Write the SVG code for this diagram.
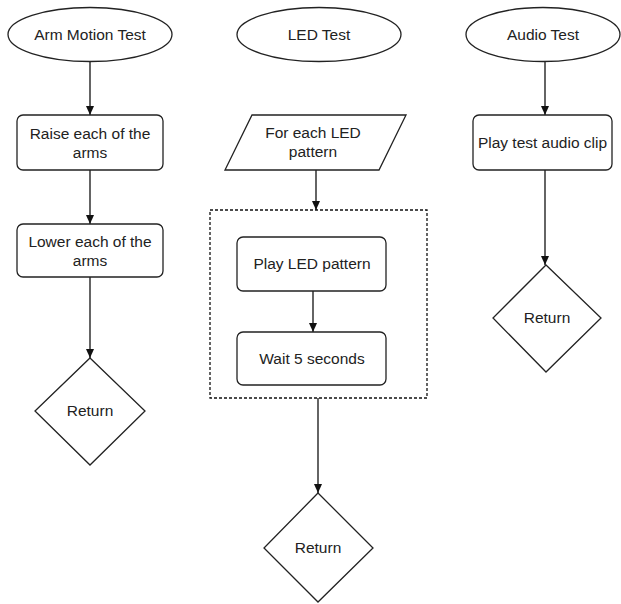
<svg xmlns="http://www.w3.org/2000/svg" width="621" height="604" viewBox="0 0 621 604">
<style>
.s{fill:#fff;stroke:#222;stroke-width:1.3}
.t{font-family:"Liberation Sans",Arial,sans-serif;font-size:15.5px;fill:#222;text-anchor:middle}
.c{fill:none;stroke:#111;stroke-width:1.3}
.d{fill:none;stroke:#111;stroke-width:1.3;stroke-dasharray:3,2}
</style>
<defs>
<marker id="a" markerWidth="10" markerHeight="10" refX="9" refY="5" orient="auto" markerUnits="userSpaceOnUse">
<path d="M0,1 L9,5 L0,9 Z" fill="#111"/>
</marker>
</defs>
<rect width="621" height="604" fill="#fff"/>
<g id="connectors">
<line class="c" x1="90" y1="62" x2="90" y2="115" marker-end="url(#a)"/>
<line class="c" x1="90" y1="170" x2="90" y2="224" marker-end="url(#a)"/>
<line class="c" x1="90" y1="277" x2="90" y2="358" marker-end="url(#a)"/>
<line class="c" x1="316" y1="170" x2="316" y2="210" marker-end="url(#a)"/>
<line class="c" x1="313" y1="291" x2="313" y2="332" marker-end="url(#a)"/>
<line class="c" x1="318" y1="398" x2="318" y2="493" marker-end="url(#a)"/>
<line class="c" x1="545" y1="62" x2="545" y2="115" marker-end="url(#a)"/>
<line class="c" x1="545" y1="170" x2="545" y2="265" marker-end="url(#a)"/>
</g>
<g id="loop">
<rect class="d" x="210" y="210" width="217" height="188"/>
</g>
<g id="arm-start">
<ellipse class="s" cx="90" cy="34.5" rx="82" ry="27"/>
<text class="t" x="90" y="40">Arm Motion Test</text>
</g>
<g id="raise">
<rect class="s" x="17" y="115" width="146" height="55" rx="6"/>
<text class="t" x="90" y="139">Raise each of the</text>
<text class="t" x="90" y="158">arms</text>
</g>
<g id="lower">
<rect class="s" x="17" y="224" width="146" height="53" rx="6"/>
<text class="t" x="90" y="247">Lower each of the</text>
<text class="t" x="90" y="266">arms</text>
</g>
<g id="arm-return">
<path class="s" d="M90,358 L145,411 L90,465 L35,411 Z"/>
<text class="t" x="90" y="416">Return</text>
</g>
<g id="led-start">
<ellipse class="s" cx="319" cy="34.5" rx="82" ry="27"/>
<text class="t" x="319" y="40">LED Test</text>
</g>
<g id="for-each">
<path class="s" d="M252,115 L406,115 L379,170 L225,170 Z"/>
<text class="t" x="313" y="138">For each LED</text>
<text class="t" x="313" y="157">pattern</text>
</g>
<g id="play-led">
<rect class="s" x="237" y="237" width="149" height="54" rx="6"/>
<text class="t" x="312" y="269">Play LED pattern</text>
</g>
<g id="wait">
<rect class="s" x="237" y="332" width="149" height="53" rx="6"/>
<text class="t" x="312" y="364">Wait 5 seconds</text>
</g>
<g id="led-return">
<path class="s" d="M318,493 L373,548 L318,602 L264,548 Z"/>
<text class="t" x="318" y="553">Return</text>
</g>
<g id="audio-start">
<ellipse class="s" cx="543" cy="34.5" rx="77" ry="27"/>
<text class="t" x="543" y="40">Audio Test</text>
</g>
<g id="play-audio">
<rect class="s" x="473" y="115" width="139" height="55" rx="6"/>
<text class="t" x="542.5" y="148">Play test audio clip</text>
</g>
<g id="audio-return">
<path class="s" d="M546,265 L601,318 L546,372 L493,318 Z"/>
<text class="t" x="547" y="323">Return</text>
</g>
</svg>
